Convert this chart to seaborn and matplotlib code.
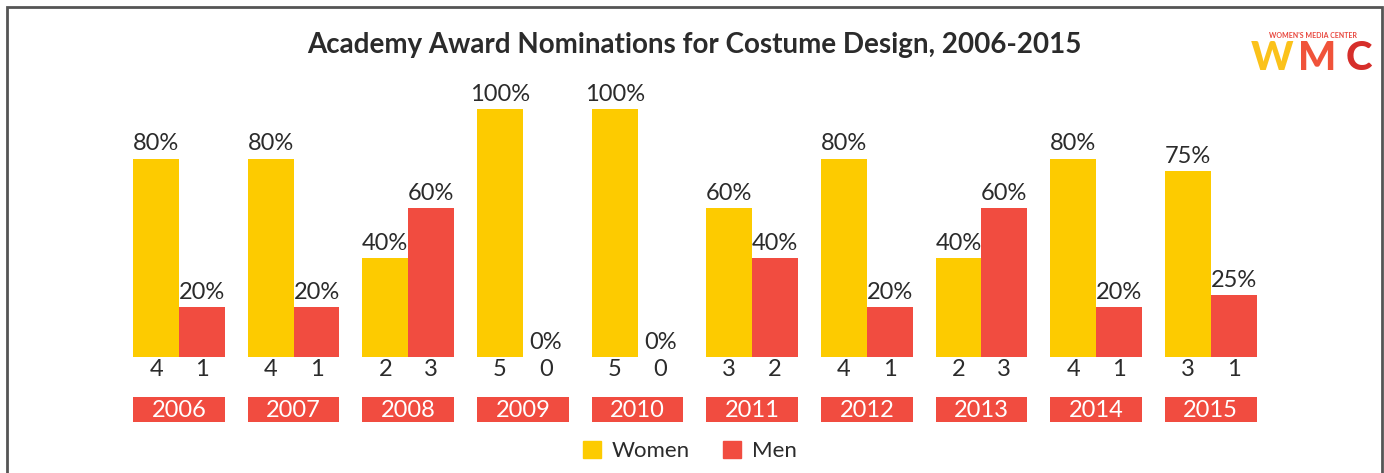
import pandas as pd
import seaborn as sns
import matplotlib.pyplot as plt
import matplotlib.transforms as mtransforms
from matplotlib.patches import Rectangle, Patch

years = ["2006", "2007", "2008", "2009", "2010", "2011", "2012", "2013", "2014", "2015"]
women_pct = [80, 80, 40, 100, 100, 60, 80, 40, 80, 75]
men_pct = [20, 20, 60, 0, 0, 40, 20, 60, 20, 25]
women_n = [4, 4, 2, 5, 5, 3, 4, 2, 4, 3]
men_n = [1, 1, 3, 0, 0, 2, 1, 3, 1, 1]

YELLOW = "#FDCB00"
RED = "#F14C40"
DARK = "#2b2b2b"

df = pd.DataFrame({
    "year": years * 2,
    "gender": ["Women"] * len(years) + ["Men"] * len(years),
    "pct": women_pct + men_pct,
})

sns.set_style("white")
plt.rcParams["font.family"] = ["Lato", "DejaVu Sans"]

W, H = 1384, 473
fig = plt.figure(figsize=(W / 100, H / 100), dpi=100)
ax = fig.add_axes([121.7 / W, (H - 357) / H, (1268 - 121.7) / W, (357 - 109) / H])

sns.barplot(data=df, x="year", y="pct", hue="gender", palette=[YELLOW, RED],
            width=0.8, saturation=1, linewidth=0, ax=ax, legend=False)
ax.set_ylim(0, 100)
ax.set_xlim(-0.5, len(years) - 0.5)
ax.set_xlabel("")
ax.set_ylabel("")
ax.set_xticks([])
ax.set_yticks([])
sns.despine(ax=ax, left=True, bottom=True)

counts = [women_n, men_n]
trans = mtransforms.blended_transform_factory(ax.transData, fig.transFigure)
for cont, ns in zip(ax.containers, counts):
    ax.bar_label(cont, fmt="%d%%", padding=3, fontsize=17, color=DARK)
    for bar, n in zip(cont, ns):
        xc = bar.get_x() + bar.get_width() / 2
        ax.text(xc, (H - 369) / H, str(n), transform=trans, ha="center",
                va="center", fontsize=17, color=DARK)

# year boxes
for i, yr in enumerate(years):
    ax.add_patch(Rectangle((i - 0.4, (H - 422) / H), 0.8, 25 / H,
                           transform=trans, color=RED, clip_on=False, lw=0))
    ax.text(i, (H - 410) / H, yr, transform=trans, ha="center", va="center",
            fontsize=17, color="white")

fig.text(694 / W, (H - 45) / H, "Academy Award Nominations for Costume Design, 2006-2015",
         ha="center", va="center", fontsize=20, fontweight="bold", color=DARK)

handles = [Patch(color=YELLOW, label="Women"), Patch(color=RED, label="Men")]
fig.legend(handles=handles, loc="center", bbox_to_anchor=(690 / W, (H - 451) / H),
           ncol=2, frameon=False, fontsize=16, handlelength=0.8, handleheight=0.8,
           columnspacing=1.5, handletextpad=0.5, labelcolor=DARK)

# logo
fig.text(1313 / W, (H - 35) / H, "WOMEN'S MEDIA CENTER", ha="center", va="center",
         fontsize=5, fontweight="bold", color="#E8453C")
for ch, x, c in [("W", 1272, "#FBC21A"), ("M", 1317, "#F0533A"), ("C", 1359, "#D62E2A")]:
    fig.text(x / W, (H - 59) / H, ch, ha="center", va="center", fontsize=29,
             fontweight="black", color=c)

fig.add_artist(Rectangle((7 / W, -0.05), (1382 - 7) / W, (H - 7) / H + 0.05,
                         transform=fig.transFigure, fill=False, ec="#555555", lw=2))

fig.savefig("out.png", dpi=100)
